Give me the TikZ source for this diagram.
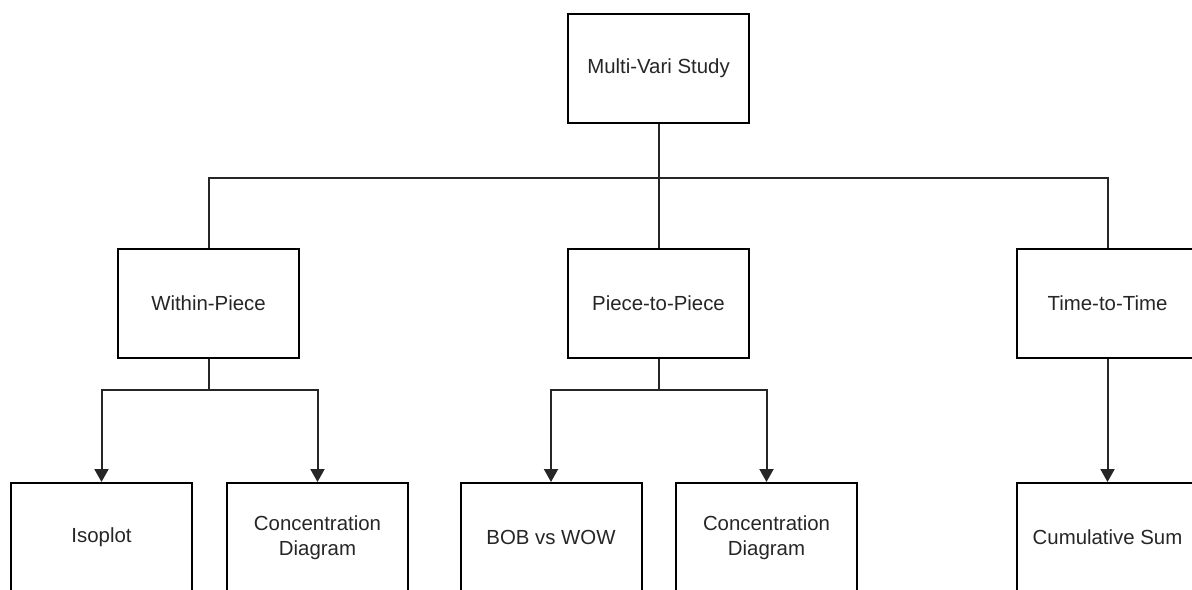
\documentclass[tikz,border=0pt]{standalone}
\usepackage{fontspec}
\setmainfont{Liberation Sans}
\usetikzlibrary{arrows.meta}
\begin{document}
\begin{tikzpicture}[x=0.5pt,y=-0.5pt,
  box/.style={draw=black,line width=1pt,fill=white,minimum width=90.5pt,minimum height=54.5pt,inner sep=0pt,align=center,font=\fontsize{10.2}{12.5}\selectfont,text=black!85},
  link/.style={draw=black!85,line width=1pt},
  arr/.style={link,-{Triangle[width=7pt,length=6.5pt]}}]
\useasboundingbox (0,0) rectangle (1192,589);
\clip (0,0) rectangle (1192,589);
\node[box] (top) at (658.5,68.5) {Multi-Vari Study};
\node[box] (wp) at (208.5,303.5) {Within-Piece};
\node[box] (pp) at (658.5,303.5) {Piece-to-Piece};
\node[box] (tt) at (1107.5,303.5) {Time-to-Time};
\node[box] (iso) at (101.5,537.5) {Isoplot};
\node[box] (cd1) at (317.5,537.5) {Concentration\\Diagram};
\node[box] (bob) at (551,537.5) {BOB vs WOW};
\node[box] (cd2) at (766.5,537.5) {Concentration\\Diagram};
\node[box] (cs) at (1107.5,537.5) {Cumulative Sum};
\coordinate (j) at (658.5,178);
\coordinate (wj) at (208.5,390);
\coordinate (pj) at (658.5,390);
\draw[link] (top) -- (pp);
\draw[link] (wp.north) |- (j) -| (tt.north);
\draw[link] (wp) -- (wj);
\draw[arr] (wj) -| (iso.north);
\draw[arr] (wj) -| (cd1.north);
\draw[link] (pp) -- (pj);
\draw[arr] (pj) -| (bob.north);
\draw[arr] (pj) -| (cd2.north);
\draw[arr] (tt) -- (cs);
\end{tikzpicture}
\end{document}
